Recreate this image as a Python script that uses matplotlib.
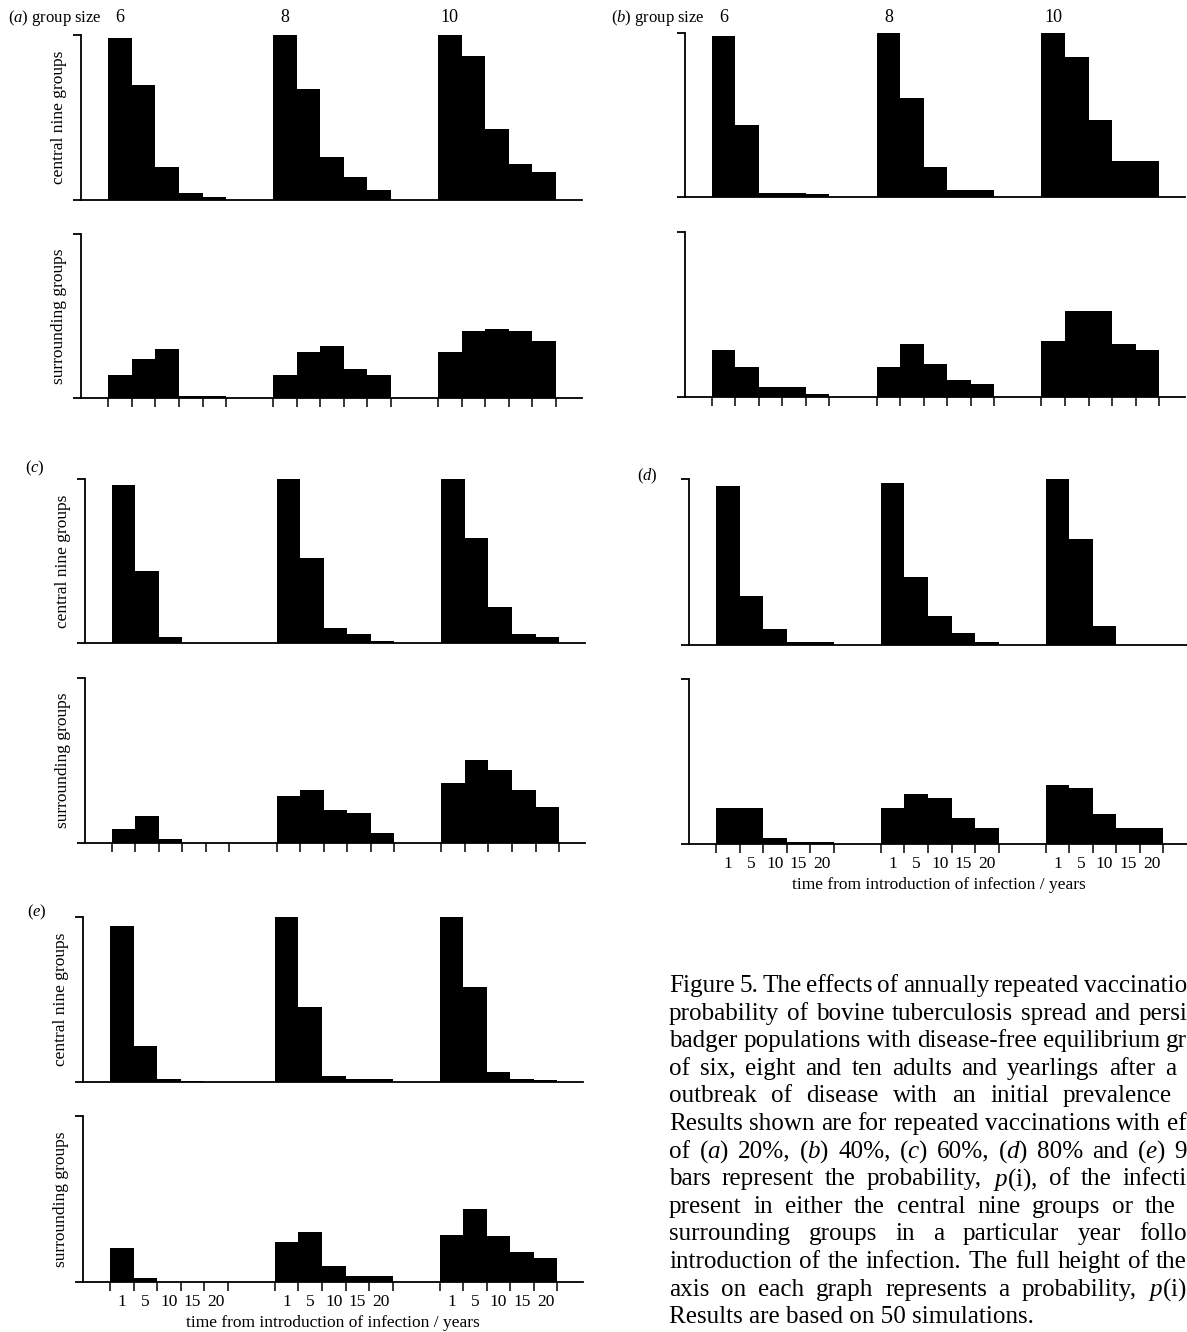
import matplotlib
matplotlib.use('Agg')
import matplotlib.pyplot as plt
import matplotlib.transforms as mtransforms

plt.rcParams['font.family'] = 'Liberation Serif'
plt.rcParams['mathtext.fontset'] = 'custom'
plt.rcParams['mathtext.rm'] = 'Liberation Serif'
plt.rcParams['mathtext.it'] = 'Liberation Serif:italic'

W, H = 1187, 1332

years = ['1', '5', '10', '15', '20']
group_sizes = ['6', '8', '10']

# p(i) for group sizes 6, 8, 10 -- five time bins each
central_a = [[0.98, 0.70, 0.20, 0.04, 0.02], [1.0, 0.67, 0.26, 0.14, 0.06], [1.0, 0.87, 0.43, 0.22, 0.17]]
surround_a = [[0.14, 0.24, 0.30, 0.015, 0.015], [0.14, 0.28, 0.32, 0.18, 0.14], [0.28, 0.41, 0.42, 0.41, 0.35]]
central_b = [[0.98, 0.44, 0.02, 0.02, 0.015], [1.0, 0.60, 0.18, 0.04, 0.04], [1.0, 0.85, 0.47, 0.22, 0.22]]
surround_b = [[0.28, 0.18, 0.06, 0.057, 0.016], [0.18, 0.32, 0.20, 0.10, 0.077], [0.34, 0.52, 0.52, 0.32, 0.28]]
central_c = [[0.965, 0.44, 0.037, 0, 0], [1.0, 0.52, 0.096, 0.057, 0.014], [1.0, 0.64, 0.22, 0.059, 0.037]]
surround_c = [[0.081, 0.162, 0.02, 0, 0], [0.284, 0.32, 0.20, 0.178, 0.057], [0.365, 0.503, 0.442, 0.32, 0.219]]
central_d = [[0.96, 0.296, 0.097, 0.016, 0.016], [0.98, 0.412, 0.175, 0.074, 0.016], [1.0, 0.638, 0.115, 0, 0]]
surround_d = [[0.221, 0.221, 0.04, 0.016, 0.016], [0.221, 0.302, 0.282, 0.161, 0.10], [0.362, 0.342, 0.181, 0.10, 0.10]]
central_e = [[0.943, 0.218, 0.016, 0.004, 0], [1.0, 0.455, 0.034, 0.016, 0.016], [1.0, 0.576, 0.057, 0.016, 0.01]]
surround_e = [[0.201, 0.02, 0, 0, 0], [0.241, 0.298, 0.095, 0.034, 0.036], [0.282, 0.439, 0.278, 0.181, 0.141]]

caption = [
    "Figure 5. The effects of annually repeated vaccinatio",
    "probability of bovine tuberculosis spread and persi",
    "badger populations with disease-free equilibrium gr",
    "of six, eight and ten adults and yearlings after a",
    "outbreak of disease with an initial prevalence",
    "Results shown are for repeated vaccinations with ef",
    r"of ($\mathit{a}$) 20%, ($\mathit{b}$) 40%, ($\mathit{c}$) 60%, ($\mathit{d}$) 80% and ($\mathit{e}$) 9",
    r"bars represent the probability, $\mathit{p}$(i), of the infecti",
    "present in either the central nine groups or the",
    "surrounding groups in a particular year follo",
    "introduction of the infection. The full height of the",
    r"axis on each graph represents a probability, $\mathit{p}$(i)",
    "Results are based on 50 simulations.",
]
cap_right = [1187, 1187, 1187, 1176, 1172, 1187, 1187, 1187, 1176, 1187, 1187, 1187, None]

fig = plt.figure(figsize=(W / 100, H / 100), dpi=100)

unit = 23.55
xmin, xmax = -1.15, 20.1
starts = [0, 7, 14]


def add_box(left, top, bottom):
    width = (xmax - xmin) * unit
    return fig.add_axes([left / W, 1 - bottom / H, width / W, (bottom - top) / H])


def style(ax, edge_ticks, labels):
    ax.set_xlim(xmin, xmax)
    ax.set_ylim(0, 1)
    for sp in ['top', 'right']:
        ax.spines[sp].set_visible(False)
    for sp in ['left', 'bottom']:
        ax.spines[sp].set_linewidth(1.3)
    ax.set_yticks([0, 1])
    ax.tick_params(axis='y', length=5.5, width=1.3, labelleft=False)
    if edge_ticks:
        ax.set_xticks([s + i for s in starts for i in range(6)])
        ax.tick_params(axis='x', which='major', length=6.5, width=1.1, labelbottom=False)
        if labels:
            ax.set_xticks([s + i + 0.5 for s in starts for i in range(5)], minor=True)
            ax.set_xticklabels(years * 3, minor=True)
            ax.tick_params(axis='x', which='minor', length=0, pad=8.5, labelsize=12.5)
    else:
        ax.set_xticks([])


panels = [
    ('a', central_a, surround_a, 108.3, (35, 200), (234, 398.3)),
    ('b', central_b, surround_b, 711.7, (32.7, 196.7), (231.7, 396.7)),
    ('c', central_c, surround_c, 111.7, (479.3, 643.3), (678.3, 842.7)),
    ('d', central_d, surround_d, 716.0, (479.3, 645.0), (679.3, 844.3)),
    ('e', central_e, surround_e, 110.0, (916.7, 1081.7), (1116.0, 1281.7)),
]

for name, cen, sur, gs, (ct, cb), (st, sb) in panels:
    left = gs + xmin * unit
    axc = add_box(left, ct, cb)
    axs = add_box(left, st, sb)
    for ax, data in [(axc, cen), (axs, sur)]:
        for s, vals in zip(starts, data):
            ax.bar([s + i for i in range(5)], vals, width=1.0, align='edge',
                   color='black', linewidth=0)
    bottom_row = name in ('d', 'e')
    style(axc, False, False)
    style(axs, True, bottom_row)

    if name in ('a', 'c', 'e'):
        fig.text((left - 22) / W, 1 - (ct + cb) / 2 / H, 'central nine groups',
                 rotation=90, ha='center', va='center', fontsize=12.5)
        fig.text((left - 22) / W, 1 - (st + sb) / 2 / H, 'surrounding groups',
                 rotation=90, ha='center', va='center', fontsize=12.5)
    if bottom_row:
        mid = left + (xmax - xmin) * unit / 2
        fig.text(mid / W, 1 - (sb + 41) / H, 'time from introduction of infection / years',
                 ha='center', va='center', fontsize=12.5)
    if name in ('a', 'b'):
        tr = mtransforms.blended_transform_factory(axc.transData, fig.transFigure)
        for s, g in zip(starts, group_sizes):
            axc.text(s + 0.5, 1 - 18 / H, g, transform=tr, ha='center', va='center', fontsize=13)

panel_text = [
    (8, 18, r'($\mathit{a}$) group size'),
    (611, 18, r'($\mathit{b}$) group size'),
    (25, 468, r'($\mathit{c}$)'),
    (637, 476, r'($\mathit{d}$)'),
    (27, 912, r'($\mathit{e}$)'),
]
for x, y, s in panel_text:
    fig.text(x / W, 1 - y / H, s, ha='left', va='center', fontsize=12)

# caption, justified word by word
r = fig.canvas.get_renderer()


def text_w(s, size):
    t = fig.text(0, 0, s, fontsize=size)
    w = t.get_window_extent(renderer=r).width
    t.remove()
    return w


cap_size = 10 * 366 / text_w(caption[-1], 10)
x0 = 669
for i, (line, right) in enumerate(zip(caption, cap_right)):
    yb = 985 + 27.6 * i + 7
    if right is None:
        fig.text(x0 / W, 1 - yb / H, line, fontsize=cap_size, va='baseline')
        continue
    words = line.split(' ')
    widths = [text_w(w, cap_size) for w in words]
    gap = (right - x0 - sum(widths)) / (len(words) - 1)
    x = x0
    for w, ww in zip(words, widths):
        fig.text(x / W, 1 - yb / H, w, fontsize=cap_size, va='baseline')
        x += ww + gap

fig.savefig('out.png', dpi=100)
